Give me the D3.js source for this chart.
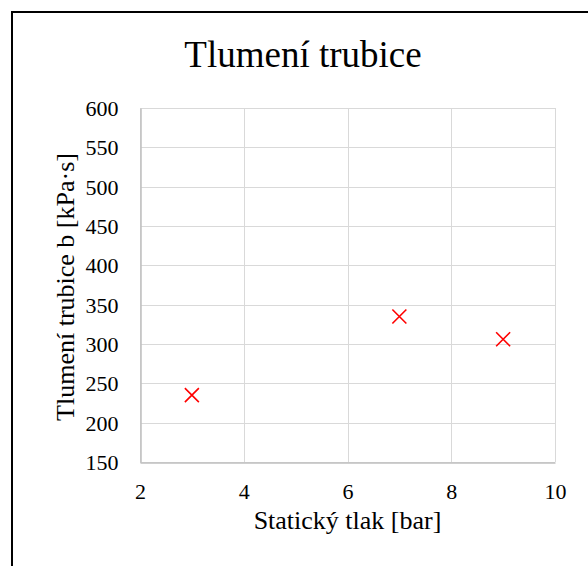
<!DOCTYPE html>
<html>
<head>
<meta charset="utf-8">
<script src="https://cdn.jsdelivr.net/npm/d3@7"></script>
<style>
  html, body { margin: 0; padding: 0; background: #fff; }
  svg { display: block; }
  text { font-family: "Liberation Serif", "Times New Roman", serif; fill: #000; }
</style>
</head>
<body>
<svg id="chart" width="588" height="566"></svg>
<script>
// Static pressure [bar] vs. tube damping b [kPa·s]
const pressure = [3, 7, 9];
const damping = [235, 335, 306];
const xTicks = [2, 4, 6, 8, 10];
const yTicks = [150, 200, 250, 300, 350, 400, 450, 500, 550, 600];

const svg = d3.select("#chart");
const W = 588, H = 566;
const plot = { left: 140, right: 555, top: 108, bottom: 462 };

// outer chart frame (runs off the right and bottom edges)
svg.append("rect")
  .attr("x", 12).attr("y", 12)
  .attr("width", W + 20).attr("height", H + 20)
  .attr("fill", "#fff").attr("stroke", "#000").attr("stroke-width", 2);

const x = d3.scaleLinear().domain([2, 10]).range([plot.left, plot.right]);
const y = d3.scaleLinear().domain([150, 600]).range([plot.bottom, plot.top]);

// gridlines
const grid = svg.append("g").attr("stroke", "#d9d9d9").attr("stroke-width", 1);
grid.selectAll("line.h").data(yTicks).join("line")
  .attr("x1", plot.left).attr("x2", plot.right)
  .attr("y1", d => Math.round(y(d)) + 0.5).attr("y2", d => Math.round(y(d)) + 0.5);
grid.selectAll("line.v").data(xTicks).join("line")
  .attr("y1", plot.top).attr("y2", plot.bottom)
  .attr("x1", d => Math.round(x(d)) + 0.5).attr("x2", d => Math.round(x(d)) + 0.5);

// axes
const xAxis = svg.append("g")
  .attr("transform", `translate(0,${Math.round(plot.bottom) + 0.5})`)
  .call(d3.axisBottom(x).tickValues(xTicks).tickSize(0).tickPadding(0).tickFormat(d3.format("d")));
const yAxis = svg.append("g")
  .attr("transform", `translate(${Math.round(plot.left) + 0.5},0)`)
  .call(d3.axisLeft(y).tickValues(yTicks).tickSize(0).tickPadding(22).tickFormat(d3.format("d")));
[xAxis, yAxis].forEach(g => {
  g.select(".domain").attr("stroke", "#bfbfbf").attr("stroke-width", 1.5);
  g.selectAll("text").style("font-family", '"Liberation Serif", serif').style("font-size", "22px").attr("fill", "#000");
});
xAxis.selectAll("text").attr("y", 36).attr("dy", null);
yAxis.selectAll("text").attr("dy", "0.34em");

// markers
const s = 7;
const pts = svg.append("g").attr("stroke", "#ff0000").attr("stroke-width", 1.6).attr("fill", "none");
pressure.forEach((p, i) => {
  const cx = x(p), cy = y(damping[i]);
  pts.append("path").attr("d", `M${cx - s},${cy - s}L${cx + s},${cy + s}M${cx - s},${cy + s}L${cx + s},${cy - s}`);
});

// titles
svg.append("text")
  .attr("x", 303).attr("y", 67)
  .attr("text-anchor", "middle")
  .style("font-size", "37px")
  .text("Tlumení trubice");

svg.append("text")
  .attr("x", (plot.left + plot.right) / 2).attr("y", 529)
  .attr("text-anchor", "middle")
  .style("font-size", "26px")
  .text("Statický tlak [bar]");

svg.append("text")
  .attr("transform", `translate(74,287) rotate(-90)`)
  .attr("text-anchor", "middle")
  .style("font-size", "26px")
  .text("Tlumení trubice b [kPa·s]");
</script>
</body>
</html>
